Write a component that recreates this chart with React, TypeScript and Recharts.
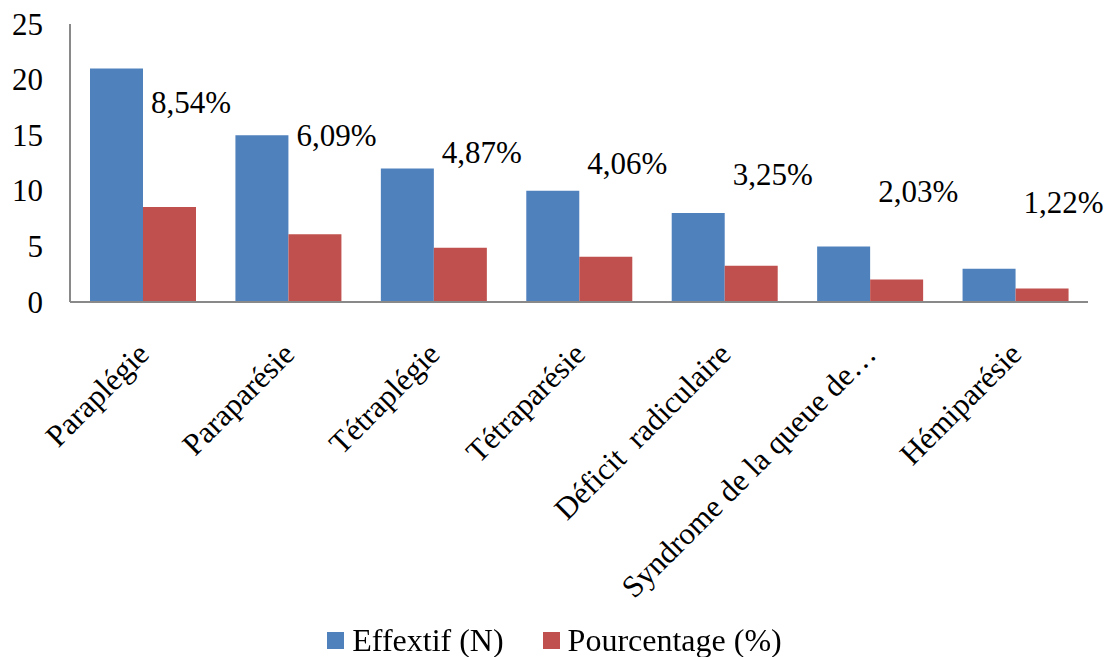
import { Bar, BarChart, LabelList, Legend, XAxis, YAxis } from 'recharts';

const categories = [
  'Paraplégie',
  'Paraparésie',
  'Tétraplégie',
  'Tétraparésie',
  'Déficit  radiculaire',
  'Syndrome de la queue de…',
  'Hémiparésie',
];
const effectif = [21, 15, 12, 10, 8, 5, 3];
const pourcentage = [8.54, 6.09, 4.87, 4.06, 3.25, 2.03, 1.22];
const yTicks = [0, 5, 10, 15, 20, 25];

const BLUE = '#4F81BD';
const RED = '#C0504D';
const AXIS = '#898989';
const FONT = "'Liberation Serif', 'Times New Roman', serif";
const textStyle = { fontFamily: FONT, fontSize: 31, fill: '#000' };

const rows = categories.map((name, i) => ({
  name,
  effectif: effectif[i],
  pourcentage: pourcentage[i],
}));

const formatPct = (v: number) => `${v.toFixed(2).replace('.', ',')}%`;

// Rotated category label, end of the text hung just right of and below the tick.
function CategoryTick(props: any) {
  const { x, y, payload } = props;
  const ax = Number(x) + 8;
  const ay = Number(y) + 52;
  return (
    <text
      x={ax}
      y={ay}
      transform={`rotate(-45 ${ax} ${ay})`}
      textAnchor="end"
      style={{ ...textStyle, whiteSpace: 'pre' }}
    >
      {payload.value}
    </text>
  );
}

function ValueTick(props: any) {
  const { x, y, payload } = props;
  return (
    <text x={Number(x)} y={Number(y)} dy="0.34em" textAnchor="end" style={textStyle}>
      {payload.value}
    </text>
  );
}

// Percentage label floated above the pair, starting at the red bar's left edge.
function PctLabel(props: any) {
  const x = Number(props.x);
  const y = Number(props.y);
  const h = Number(props.height);
  return (
    <text x={x + 8} y={y - 72 - 0.235 * h} style={textStyle}>
      {formatPct(Number(props.value))}
    </text>
  );
}

function LegendContent() {
  const items = [
    { label: 'Effextif (N)', color: BLUE },
    { label: 'Pourcentage (%)', color: RED },
  ];
  return (
    <div
      style={{
        display: 'flex',
        justifyContent: 'center',
        alignItems: 'center',
        gap: 39,
        height: 30,
        fontFamily: FONT,
        fontSize: 32,
        color: '#000',
      }}
    >
      {items.map((it) => (
        <div key={it.label} style={{ display: 'flex', alignItems: 'center', gap: 8 }}>
          <span style={{ width: 17, height: 17, background: it.color, display: 'inline-block' }} />
          <span style={{ lineHeight: '30px' }}>{it.label}</span>
        </div>
      ))}
    </div>
  );
}

export default function App() {
  return (
    <div style={{ position: 'fixed', left: 0, top: 0, background: '#fff', fontFamily: FONT }}>
      <BarChart
        width={1109}
        height={657}
        data={rows}
        margin={{ top: 24, right: 21, bottom: 2, left: 0 }}
        barCategoryGap="13.75%"
        barGap={0}
        style={{ fontFamily: FONT }}
      >
        <XAxis
          dataKey="name"
          interval={0}
          height={323}
          axisLine={{ stroke: AXIS, strokeWidth: 2 }}
          tickLine={false}
          tickSize={0}
          tick={<CategoryTick />}
        />
        <YAxis
          width={70}
          domain={[0, 25]}
          ticks={yTicks}
          axisLine={{ stroke: AXIS, strokeWidth: 2 }}
          tickLine={false}
          tickSize={0}
          tickMargin={27}
          tick={<ValueTick />}
        />
        <Legend
          verticalAlign="bottom"
          align="center"
          wrapperStyle={{ left: 0, width: 1109 }}
          content={<LegendContent />}
        />
        <Bar dataKey="effectif" name="Effextif (N)" fill={BLUE} isAnimationActive={false} />
        <Bar dataKey="pourcentage" name="Pourcentage (%)" fill={RED} isAnimationActive={false}>
          <LabelList dataKey="pourcentage" content={<PctLabel />} />
        </Bar>
      </BarChart>
    </div>
  );
}
